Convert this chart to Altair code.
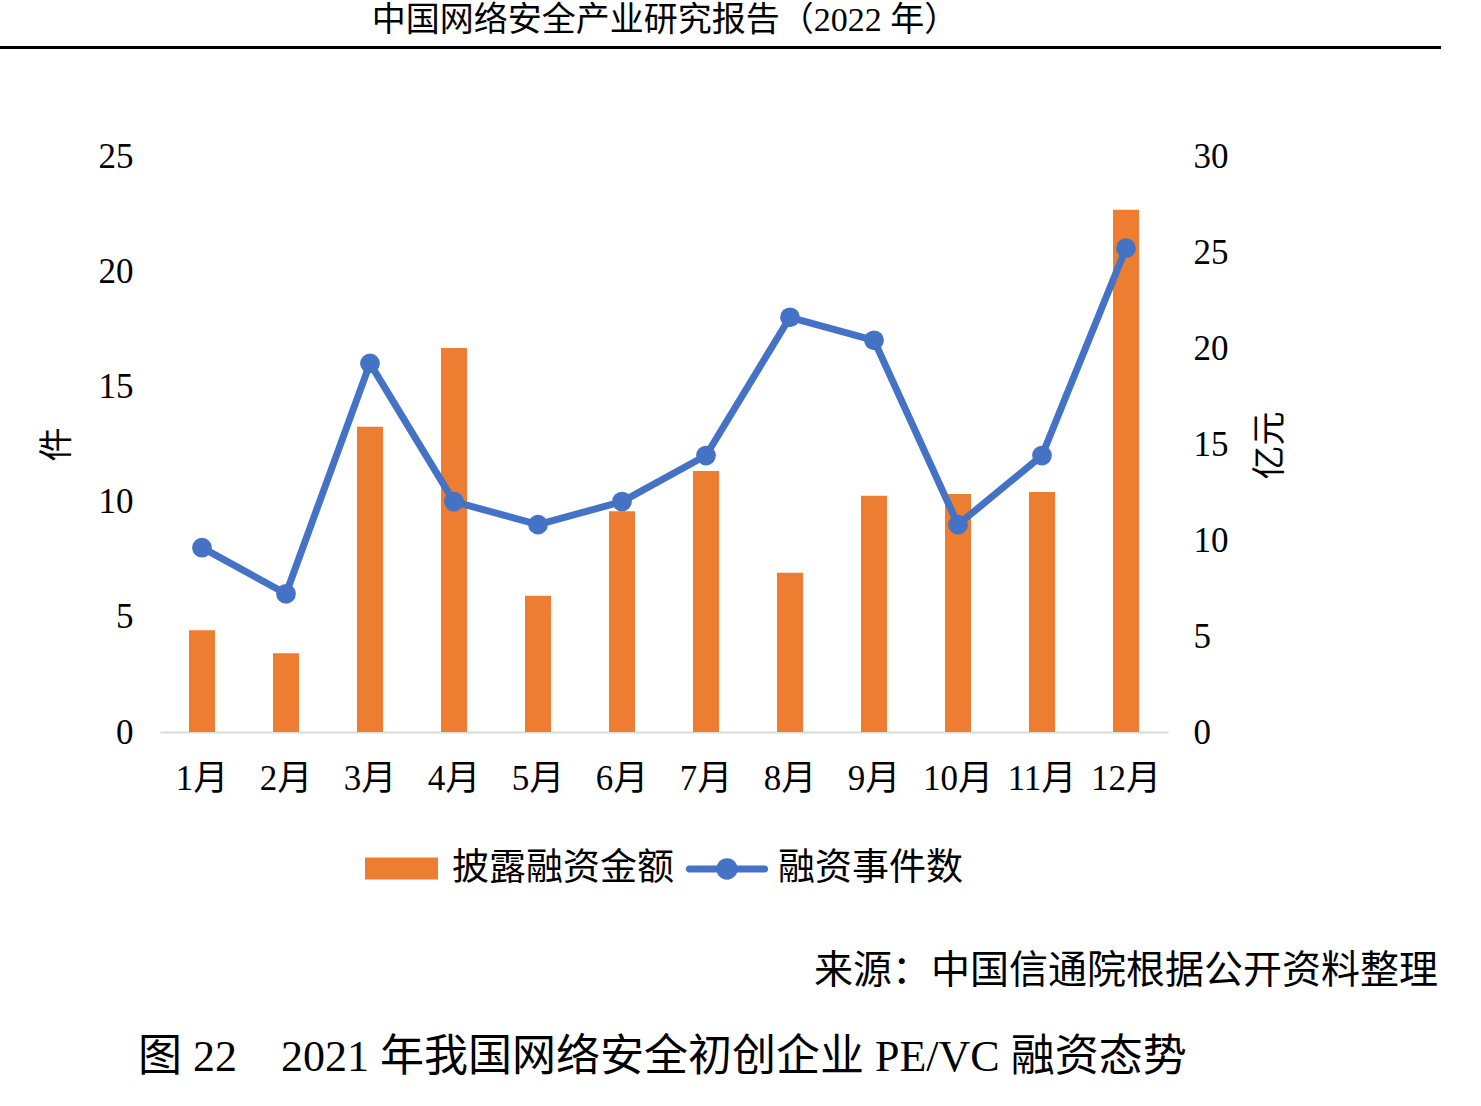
import altair as alt
import pandas as pd

# ---------------- data ----------------
months = ["1月", "2月", "3月", "4月", "5月", "6月", "7月", "8月", "9月", "10月", "11月", "12月"]
events = [8, 6, 16, 10, 9, 10, 12, 18, 17, 9, 12, 21]                       # 融资事件数 (件)
amounts = [5.3, 4.1, 15.9, 20.0, 7.1, 11.5, 13.6, 8.3, 12.3, 12.4, 12.5, 27.2]  # 披露融资金额 (亿元)
left_ticks = [0, 5, 10, 15, 20, 25]
right_ticks = [0, 5, 10, 15, 20, 25, 30]

bar_series = "披露融资金额"
line_series = "融资事件数"
left_title = "件"
right_title = "亿元"
header_text = "中国网络安全产业研究报告（2022 年）"
source_text = "来源：中国信通院根据公开资料整理"
caption_text = "图 22\u00a0\u00a0\u00a0\u00a02021 年我国网络安全初创企业 PE/VC 融资态势"

df = pd.DataFrame({
    "month": months,
    "events": events,
    "amount": amounts,
    "bar_s": [bar_series] * len(months),
    "line_s": [line_series] * len(months),
})

# ---------------- layout / style ----------------
W, H = 1008, 576
PL, PT = 160, 156
SERIF = "Liberation Serif, Noto Sans CJK SC"
SANS = "Noto Sans CJK SC"
ORANGE = "#ED7D31"
BLUE = "#4472C4"

xenc = alt.X(
    "month:N", sort=months,
    scale=alt.Scale(paddingInner=0.69, paddingOuter=0.345),
    axis=alt.Axis(title=None, labelAngle=0, labelFont=SERIF, labelFontSize=35,
                  labelColor="#000", labelPadding=46, labelBaseline="middle",
                  ticks=False, tickSize=0, domainColor="#D9D9D9", domainWidth=2,
                  grid=False),
)

y_left = alt.Y(
    "events:Q", scale=alt.Scale(domain=[0, 25], nice=False),
    axis=alt.Axis(orient="left", values=left_ticks, title=left_title, grid=False,
                  domain=False, ticks=False, tickSize=0, labelPadding=27,
                  labelFont=SERIF, labelFontSize=35, labelColor="#000",
                  titleFont=SANS, titleFontSize=34, titleFontWeight="normal",
                  titleColor="#000", titleAngle=270, titleX=-103, titleY=288,
                  titleAlign="center", titleBaseline="middle"),
)

y_right = alt.Y(
    "amount:Q", scale=alt.Scale(domain=[0, 30], nice=False),
    axis=alt.Axis(orient="right", values=right_ticks, title=right_title, grid=False,
                  domain=False, ticks=False, tickSize=0, labelPadding=25,
                  labelFont=SERIF, labelFontSize=35, labelColor="#000",
                  titleFont=SANS, titleFontSize=34, titleFontWeight="normal",
                  titleColor="#000", titleAngle=270, titleX=102, titleY=289,
                  titleAlign="center", titleBaseline="middle"),
)

bars = alt.Chart(df).mark_bar().encode(
    x=xenc,
    y=y_right,
    color=alt.Color(
        "bar_s:N",
        scale=alt.Scale(domain=[bar_series], range=[ORANGE]),
        legend=alt.Legend(orient="none", legendX=205, legendY=676, title=None,
                          symbolType="M-1,-0.3L1,-0.3L1,0.3L-1,0.3Z",
                          symbolSize=5329, symbolStrokeWidth=0, symbolOpacity=1,
                          labelFont=SANS, labelFontSize=37, labelColor="#000",
                          labelOffset=14, labelLimit=600, padding=0),
    ),
)

line = alt.Chart(df).mark_line(color=BLUE, strokeWidth=7, strokeCap="round",
                               strokeJoin="round").encode(x=xenc, y=y_left)

points = alt.Chart(df).mark_point(filled=True, size=390, opacity=1).encode(
    x=xenc,
    y=y_left,
    fill=alt.Fill(
        "line_s:N",
        scale=alt.Scale(domain=[line_series], range=[BLUE]),
        legend=alt.Legend(orient="none", legendX=526, legendY=672, title=None,
                          symbolType="M-0.92,-0.085L0.92,-0.085A0.085,0.085 0 0,1 0.92,0.085L-0.92,0.085A0.085,0.085 0 0,1 -0.92,-0.085Z M0.26,0A0.26,0.26 0 1,1 -0.26,0A0.26,0.26 0 1,1 0.26,0Z",
                          symbolSize=6724, symbolStrokeWidth=0, symbolOpacity=1,
                          symbolFillColor=BLUE,
                          labelFont=SANS, labelFontSize=37, labelColor="#000",
                          labelOffset=10, labelLimit=600, padding=0),
    ),
)

events_layer = alt.layer(line, points)


def text_layer(txt, x, y, size, align, font):
    return alt.Chart(pd.DataFrame({"t": [txt]})).mark_text(
        align=align, baseline="middle", fontSize=size, font=font, color="#000"
    ).encode(text="t:N", x=alt.value(x), y=alt.value(y))


header = text_layer(header_text, 665 - PL, 21 - PT, 34, "center", SERIF)
source = text_layer(source_text, 1438 - PL, 971 - PT, 39, "right", SERIF)
caption = text_layer(caption_text, 138 - PL, 1058 - PT, 44, "left", SERIF)

header_rule = alt.Chart(pd.DataFrame({"t": [0]})).mark_rule(
    color="#000", strokeWidth=3
).encode(x=alt.value(-PL), x2=alt.value(1441 - PL), y=alt.value(47.5 - PT))

chart = alt.layer(
    bars, events_layer, header, header_rule, source, caption
).resolve_scale(
    y="independent"
).properties(
    width=W, height=H,
    autosize=alt.AutoSizeParams(type="none"),
    padding={"left": PL, "top": PT, "right": 1481 - PL - W, "bottom": 1106 - PT - H},
    background="white",
).configure_view(strokeWidth=0)

chart.save("out.html", embed_options={"renderer": "svg", "actions": False})
